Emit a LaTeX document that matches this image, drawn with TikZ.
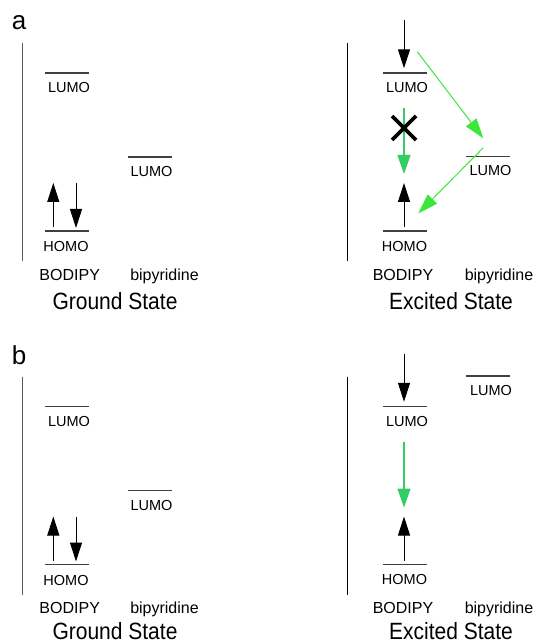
\documentclass[tikz,border=0pt]{standalone}
\usepackage{fontspec}
\setmainfont{Liberation Sans}
\usetikzlibrary{arrows.meta}
\definecolor{grn}{RGB}{60,230,60}
\definecolor{grnv}{RGB}{50,205,100}
\tikzset{
  level/.style={draw=black!75, line width=1.1pt},
  axisg/.style={draw=black!65, line width=1pt},
  axise/.style={draw=black, line width=1pt},
  lbl/.style={font=\fontsize{14.5}{16}\selectfont, anchor=base, inner sep=0pt},
  mol/.style={font=\fontsize{16}{18}\selectfont, anchor=base, inner sep=0pt},
  ttl/.style={font=\fontsize{21}{24}\selectfont, anchor=base, inner sep=0pt},
  panellbl/.style={font=\fontsize{26}{30}\selectfont, anchor=base, inner sep=0pt},
  spin/.style={draw=black, line width=1pt, -{Triangle[length=19pt,width=12pt]}},
  transfer/.style={draw=grn, line width=1pt, -{Triangle[length=20pt,width=13pt]}},
  emit/.style={draw=grnv, line width=1.2pt, -{Triangle[length=19pt,width=13pt]}},
  cross/.style={draw=black, line width=3.8pt},
}
\newcommand{\tallText}[1]{\scalebox{1}[1.12]{#1}}
% ground-state panel (identical in a and b)
\newcommand{\groundpanel}[1]{%
  \coordinate (#1axT) at (22,43); \coordinate (#1axB) at (22,261);
  \draw[axisg] (#1axT) -- (#1axB);
  \coordinate (#1bLl) at (45,73); \coordinate (#1bLr) at (88.7,73);
  \draw[level] (#1bLl) -- (#1bLr);
  \node[lbl] (#1bLt) at (69,92.5) {LUMO};
  \coordinate (#1pLl) at (128,157); \coordinate (#1pLr) at (172,157);
  \draw[level] (#1pLl) -- (#1pLr);
  \node[lbl] (#1pLt) at (151.5,176.5) {LUMO};
  \coordinate (#1bHl) at (45,231); \coordinate (#1bHr) at (88.7,231);
  \draw[level] (#1bHl) -- (#1bHr);
  \node[lbl] (#1bHt) at (66,251.5) {HOMO};
  \coordinate (#1upS) at (53.3,227); \coordinate (#1upE) at (53.3,183);
  \draw[spin] (#1upS) -- (#1upE);
  \coordinate (#1dnS) at (76,183); \coordinate (#1dnE) at (76,228);
  \draw[spin] (#1dnS) -- (#1dnE);
  \node[mol] (#1bod) at (69.7,280) {BODIPY};
  \node[mol] (#1bpy) at (164.5,280) {bipyridine};
}
% excited-state panel, BODIPY side (identical in a and b)
\newcommand{\excitedpanel}[1]{%
  \coordinate (#1axT) at (347,43); \coordinate (#1axB) at (347,261);
  \draw[axise] (#1axT) -- (#1axB);
  \coordinate (#1bLl) at (382.5,73); \coordinate (#1bLr) at (426.5,73);
  \draw[level] (#1bLl) -- (#1bLr);
  \node[lbl] (#1bLt) at (407,92.5) {LUMO};
  \coordinate (#1bHl) at (382.5,231); \coordinate (#1bHr) at (426.5,231);
  \draw[level] (#1bHl) -- (#1bHr);
  \node[lbl] (#1bHt) at (404.5,251) {HOMO};
  \coordinate (#1dnS) at (404,20); \coordinate (#1dnE) at (404,68.3);
  \draw[spin] (#1dnS) -- (#1dnE);
  \coordinate (#1upS) at (404,227); \coordinate (#1upE) at (404,183);
  \draw[spin] (#1upS) -- (#1upE);
  \coordinate (#1emS) at (404,108.3); \coordinate (#1emE) at (404,174);
  \draw[emit] (#1emS) -- (#1emE);
  \node[mol] (#1bod) at (403,280) {BODIPY};
  \node[mol] (#1bpy) at (499,280) {bipyridine};
}
\begin{document}
\begin{tikzpicture}[x=1pt,y=-1pt]
  \useasboundingbox (0,0) rectangle (537,644);
  % ---------- panel a ----------
  \node[panellbl] (la) at (19,30) {a};
  \groundpanel{ag}
  \excitedpanel{ae}
  \coordinate (aepLl) at (466,156.7); \coordinate (aepLr) at (510,156.7);
  \draw[level] (aepLl) -- (aepLr);
  \node[lbl] (aepLt) at (490.5,176) {LUMO};
  % blocked emission cross
  \coordinate (axc) at (404,128);
  \draw[cross] ([shift={(-12,-12)}]axc) -- ([shift={(12,12)}]axc)
               ([shift={(-12,12)}]axc) -- ([shift={(12,-12)}]axc);
  % electron transfer arrows
  \coordinate (at1s) at (417.3,51.7); \coordinate (at1e) at (483.3,138.3);
  \draw[transfer] (at1s) -- (at1e);
  \coordinate (at2s) at (483.3,147.7); \coordinate (at2e) at (418.3,213.3);
  \draw[transfer] (at2s) -- (at2e);
  \node[ttl] (agt) at (115,309.5) {\tallText{Ground State}};
  \node[ttl] (aet) at (451,309.5) {\tallText{Excited State}};
  % ---------- panel b ----------
  \begin{scope}[yshift=-333.5pt]
    \node[panellbl] (lb) at (19,30.5) {b};
    \groundpanel{bg}
    \excitedpanel{be}
    \coordinate (bepLl) at (466,42.5); \coordinate (bepLr) at (510,42.5);
    \draw[level] (bepLl) -- (bepLr);
    \node[lbl] (bepLt) at (491,61.5) {LUMO};
  \end{scope}
  \node[ttl] (bgt) at (115,639.5) {\tallText{Ground State}};
  \node[ttl] (bet) at (451,639.5) {\tallText{Excited State}};
\end{tikzpicture}
\end{document}
